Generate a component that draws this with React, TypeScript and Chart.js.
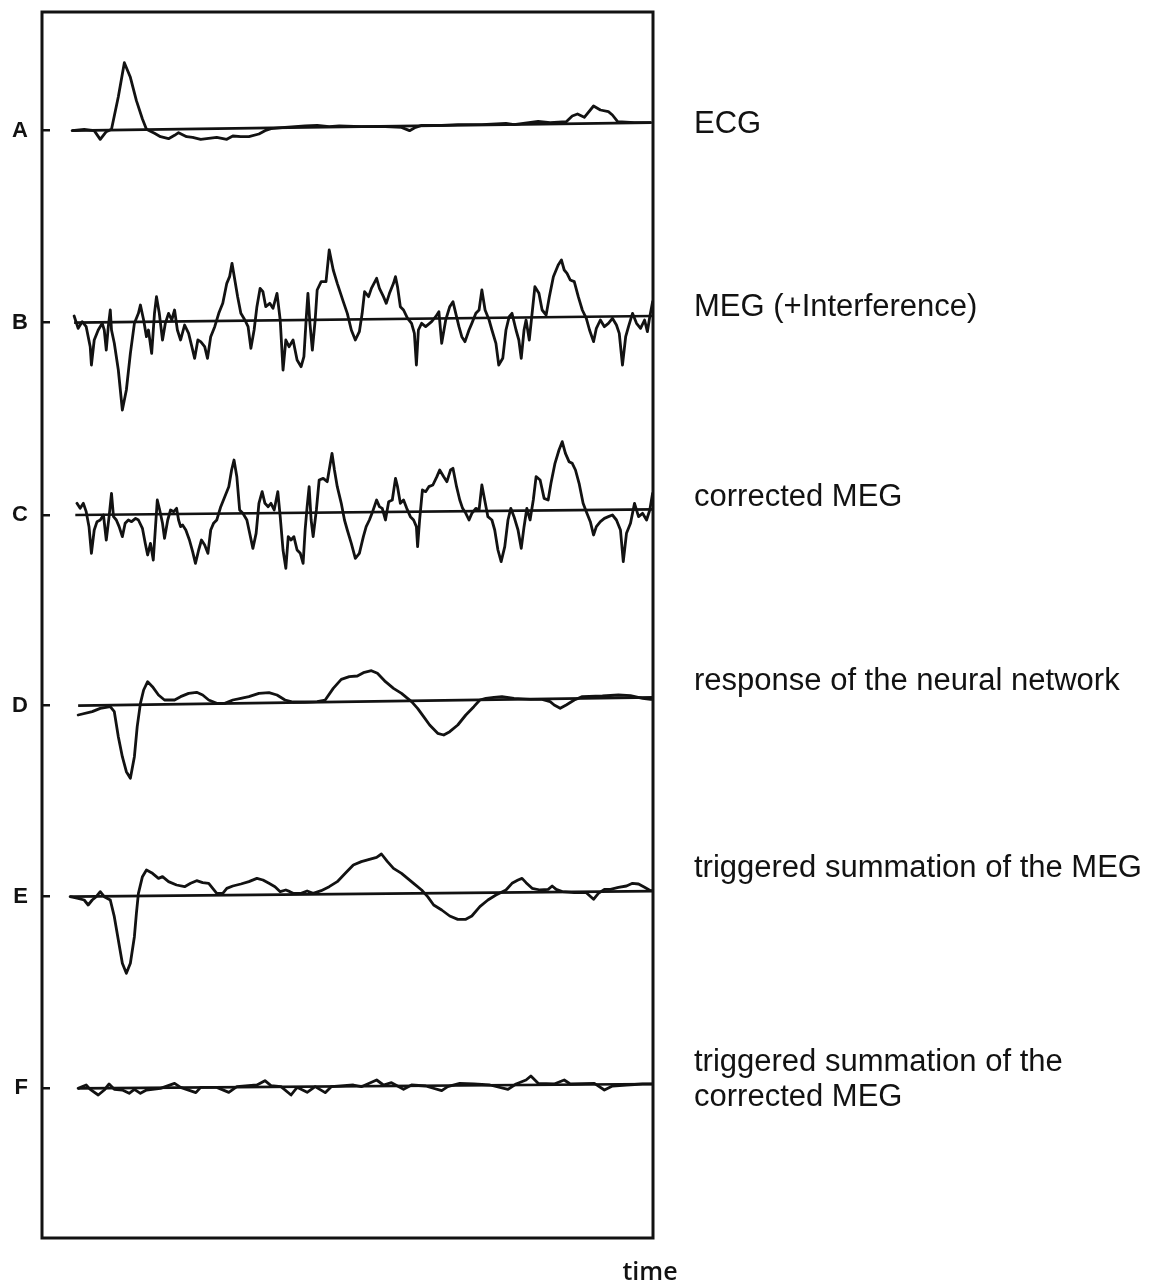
import React, { useEffect, useRef } from "react";
import { Chart, registerables } from "chart.js";

Chart.register(...registerables);

// Panel labels (left) and trace descriptions (right)
const panelLetters = ["A", "B", "C", "D", "E", "F"];
const panelNames: (string | string[])[] = [
  "ECG",
  "MEG (+Interference)",
  "corrected MEG",
  "response of the neural network",
  "triggered summation of the MEG",
  ["triggered summation of the", "corrected MEG"],
];
const axisTitle = "time";

// Each trace: [time sample, amplitude relative to its own zero level]
const ecgTrace = [
  [80, 0], [110, 4], [135, 0], [150, -26], [165, -3], [178, 4], [195, 102], [210, 204], [225, 160], [240, 90],
  [255, 35], [265, 4], [285, -8], [300, -18], [320, -24], [335, -14], [345, -6], [365, -18], [380, -20], [400, -26],
  [420, -23], [440, -20], [465, -26], [480, -16], [500, -18], [520, -18], [545, -10], [560, 0], [575, 6], [610, 10],
  [660, 14], [690, 16], [720, 12], [745, 14], [800, 12], [860, 12], [900, 10], [920, 0], [935, 10], [950, 16],
  [1000, 16], [1040, 18], [1100, 18], [1160, 22], [1180, 18], [1240, 28], [1270, 24], [1310, 27], [1325, 44], [1338, 50],
  [1355, 40], [1378, 74], [1395, 62], [1415, 57], [1425, 47], [1438, 27], [1480, 24], [1520, 24],
];

const megRawTrace = [
  [85, 20], [95, -17], [105, 3], [115, -12], [125, -72], [128, -127], [135, -52], [145, -22], [155, -2], [160, -22],
  [165, -82], [170, -12], [175, 38], [178, -22], [185, -62], [195, -142], [205, -262], [215, -202], [225, -92], [235, -2],
  [245, 28], [250, 53], [258, 8], [265, -42], [270, -22], [278, -92], [285, 28], [290, 78], [297, 28], [305, -52],
  [312, -2], [320, 28], [328, 8], [335, 38], [342, -22], [350, -52], [360, -7], [370, -32], [378, -72], [385, -107],
  [393, -52], [400, -57], [410, -72], [417, -107], [425, -42], [435, -12], [445, 28], [455, 58], [465, 118], [472, 138],
  [478, 178], [485, 128], [492, 78], [500, 28], [510, 8], [518, -12], [525, -77], [533, -22], [540, 48], [548, 103],
  [555, 93], [562, 48], [572, 58], [580, 43], [590, 88], [598, 8], [605, -142], [612, -52], [620, -72], [630, -52],
  [640, -112], [650, -132], [657, -102], [663, 18], [667, 88], [672, -2], [678, -82], [685, 8], [690, 98], [700, 123],
  [712, 123], [720, 218], [730, 158], [740, 118], [755, 63], [765, 28], [775, -22], [785, -52], [795, -27], [802, 28],
  [808, 93], [818, 78], [825, 103], [838, 133], [845, 103], [855, 78], [862, 58], [870, 88], [880, 118], [885, 138],
  [890, 108], [897, 48], [905, 38], [915, 13], [925, -2], [932, -32], [937, -127], [942, -22], [950, -2], [960, -12],
  [975, 3], [985, 18], [993, 33], [1000, -62], [1010, 8], [1020, 48], [1028, 63], [1035, 28], [1043, -12], [1050, -42],
  [1058, -57], [1068, -22], [1075, -2], [1085, 28], [1093, 38], [1100, 98], [1108, 38], [1118, 8], [1125, -22], [1135, -62],
  [1142, -127], [1152, -107], [1160, -22], [1168, 18], [1175, 28], [1185, -22], [1192, -52], [1198, -107], [1205, -22], [1210, 8],
  [1218, -52], [1225, 28], [1232, 108], [1242, 88], [1250, 38], [1260, 23], [1268, 78], [1278, 138], [1290, 173], [1298, 188],
  [1305, 158], [1312, 148], [1320, 128], [1330, 123], [1340, 78], [1350, 38], [1360, 13], [1368, -22], [1378, -57], [1385, -17],
  [1395, 8], [1405, -12], [1415, -2], [1425, 13], [1435, -7], [1442, -32], [1450, -127], [1458, -42], [1465, -12], [1475, 28],
  [1485, -2], [1495, -17], [1505, 8], [1512, -27], [1518, 18], [1525, 63],
];

const megCorrectedTrace = [
  [92, 35], [100, 20], [108, 35], [115, 10], [122, -35], [128, -115], [135, -45], [142, -20], [150, -15], [158, 0],
  [165, -75], [172, -5], [178, 65], [183, -5], [190, -15], [197, -35], [205, -65], [212, -25], [220, -15], [228, -20],
  [238, -10], [245, -15], [255, -40], [262, -85], [268, -120], [275, -85], [282, -135], [287, -45], [292, 45], [298, 15],
  [305, -25], [310, -70], [318, -15], [325, 15], [333, 10], [340, 20], [345, -15], [350, -35], [355, -30], [363, -45],
  [372, -75], [380, -110], [387, -145], [395, -105], [402, -75], [410, -90], [418, -115], [425, -45], [432, -25], [440, -15],
  [450, 25], [460, 55], [470, 85], [477, 135], [483, 165], [490, 115], [497, 15], [505, 5], [515, -15], [522, -55],
  [530, -100], [538, -55], [545, 35], [553, 70], [560, 35], [568, 25], [575, 35], [583, 15], [592, 70], [598, -5],
  [605, -105], [612, -160], [618, -65], [625, -75], [632, -65], [640, -105], [648, -115], [655, -145], [660, -45], [665, 25],
  [670, 85], [675, -15], [680, -65], [688, 15], [695, 105], [705, 110], [715, 100], [722, 150], [727, 185], [733, 135],
  [740, 85], [750, 35], [758, -15], [765, -45], [775, -85], [785, -130], [795, -115], [805, -65], [812, -35], [820, -15],
  [828, 10], [838, 45], [845, 25], [852, 20], [860, -15], [868, 40], [877, 45], [885, 110], [890, 85], [897, 35],
  [905, 45], [913, 20], [922, -5], [930, -15], [937, -35], [940, -95], [945, -15], [952, 75], [960, 70], [968, 85],
  [978, 90], [988, 115], [995, 135], [1005, 115], [1013, 100], [1022, 135], [1028, 140], [1037, 85], [1045, 45], [1052, 20],
  [1060, 5], [1068, -15], [1075, 5], [1085, 20], [1093, 15], [1100, 90], [1107, 45], [1115, -5], [1125, -15], [1132, -45],
  [1140, -105], [1148, -140], [1157, -95], [1165, -15], [1172, 20], [1180, -5], [1190, -45], [1198, -100], [1205, -35], [1212, 20],
  [1220, -15], [1228, 45], [1235, 115], [1245, 105], [1255, 50], [1265, 45], [1272, 95], [1282, 155], [1292, 195], [1300, 220],
  [1308, 185], [1317, 160], [1325, 155], [1333, 135], [1342, 95], [1352, 35], [1360, 10], [1370, -20], [1378, -60], [1385, -35],
  [1395, -20], [1405, -10], [1415, -5], [1425, 0], [1435, -15], [1445, -45], [1452, -140], [1460, -55], [1470, -25], [1480, 35],
  [1490, -5], [1500, 5], [1510, -15], [1518, 15], [1525, 65], [1532, 35],
];

const networkTrace = [
  [95, -28], [130, -18], [150, -8], [175, -3], [185, -18], [195, -93], [205, -153], [215, -198], [225, -218], [235, -153],
  [242, -63], [250, 7], [258, 47], [268, 72], [280, 57], [295, 32], [310, 17], [325, 17], [335, 17], [350, 27],
  [370, 37], [390, 40], [405, 32], [420, 17], [440, 7], [460, 7], [480, 17], [500, 22], [520, 27], [545, 37],
  [570, 39], [590, 32], [610, 17], [630, 11], [660, 11], [690, 12], [710, 17], [730, 52], [750, 79], [770, 87],
  [790, 89], [805, 99], [825, 105], [840, 97], [860, 72], [880, 52], [900, 37], [915, 22], [925, 12], [940, -8],
  [955, -33], [970, -58], [990, -83], [1005, -88], [1020, -78], [1040, -58], [1060, -28], [1080, -3], [1095, 17], [1110, 22],
  [1130, 25], [1150, 27], [1180, 22], [1220, 19], [1250, 19], [1270, 12], [1280, 2], [1295, -8], [1310, 2], [1330, 17],
  [1350, 27], [1400, 29], [1440, 32], [1470, 30], [1500, 22], [1520, 19], [1535, 19],
];

const triggeredTrace = [
  [75, 0], [95, -5], [110, -10], [120, -25], [130, -10], [140, 0], [150, 15], [160, 0], [175, -10], [185, -60],
  [195, -130], [205, -200], [215, -230], [225, -200], [235, -120], [240, -50], [245, 10], [255, 60], [265, 80], [280, 70],
  [295, 55], [305, 60], [320, 45], [340, 35], [360, 30], [375, 40], [390, 48], [405, 42], [420, 40], [430, 25],
  [440, 10], [455, 10], [465, 25], [480, 32], [500, 38], [520, 45], [540, 55], [555, 50], [570, 40], [585, 30],
  [598, 15], [612, 20], [622, 15], [630, 10], [650, 10], [665, 17], [680, 10], [700, 18], [720, 30], [740, 45],
  [760, 70], [780, 95], [800, 105], [820, 112], [838, 118], [850, 128], [865, 105], [880, 85], [900, 70], [915, 55],
  [930, 40], [950, 20], [965, 0], [980, -25], [1000, -40], [1020, -58], [1040, -68], [1060, -68], [1075, -58], [1095, -30],
  [1115, -10], [1135, 5], [1160, 20], [1175, 40], [1190, 50], [1200, 55], [1210, 42], [1225, 25], [1245, 20], [1265, 22],
  [1275, 32], [1285, 22], [1300, 15], [1330, 12], [1360, 12], [1378, -8], [1390, 10], [1405, 22], [1420, 22], [1440, 28],
  [1460, 32], [1475, 40], [1490, 38], [1505, 28], [1520, 18], [1535, 18],
];

const triggeredCorrectedTrace = [
  [95, 0], [115, 10], [125, -3], [145, -20], [160, -5], [172, 13], [185, -3], [205, -5], [222, -15], [235, -3],
  [250, -15], [265, -5], [300, 0], [335, 15], [350, 3], [388, -13], [400, 3], [440, 3], [470, -12], [490, 5],
  [540, 10], [560, 23], [575, 8], [600, 5], [625, -20], [640, 3], [665, -12], [685, 5], [710, -13], [725, 5],
  [780, 10], [800, 5], [838, 25], [855, 10], [875, 17], [905, -3], [925, 10], [960, 7], [1000, -7], [1015, 5],
  [1045, 15], [1080, 13], [1120, 10], [1165, -3], [1185, 13], [1210, 25], [1222, 37], [1240, 15], [1280, 13], [1305, 25],
  [1320, 13], [1380, 15], [1405, -5], [1425, 7], [1460, 10], [1500, 13], [1530, 13],
];

// Zero line of each panel: [start time, level], [end time, level]
const zeroLines = [
  [[80, 0], [1522, 24]],
  [[85, 0], [1525, 20]],
  [[88, 0], [1530, 17]],
  [[95, 0], [1535, 25]],
  [[75, 0], [1535, 17]],
  [[95, 0], [1530, 13]],
];

// Vertical placement (value units) of each panel's zero level and its description
const panelOffsets = [3322, 2746, 2169, 1597, 1024, 449];
const namePositions = [3342, 2793, 2223, 1671, 1110, 474];

const INK = "#121212";

const framePlugin = {
  id: "frame",
  afterDatasetsDraw(chart: any) {
    const { ctx, chartArea } = chart;
    ctx.save();
    ctx.strokeStyle = INK;
    ctx.lineWidth = 3;
    ctx.strokeRect(chartArea.left, chartArea.top, chartArea.right - chartArea.left, chartArea.bottom - chartArea.top);
    ctx.restore();
  },
};

const timeLabelPlugin = {
  id: "timeLabel",
  afterDraw(chart: any) {
    const { ctx, chartArea } = chart;
    ctx.save();
    ctx.font = '600 25px "Open Sans"';
    ctx.fillStyle = INK;
    ctx.textAlign = "center";
    ctx.textBaseline = "alphabetic";
    ctx.fillText(axisTitle, chartArea.right - 3, chartArea.bottom + 42);
    ctx.restore();
  },
};

const fixAxis = (width: number) => (s: any) => {
  s.width = width;
  s.paddingTop = 0;
  s.paddingBottom = 0;
  s.paddingLeft = 0;
  s.paddingRight = 0;
};

export default function App() {
  const canvasRef = useRef<HTMLCanvasElement>(null);

  useEffect(() => {
    if (!canvasRef.current) return;
    const traces = [ecgTrace, megRawTrace, megCorrectedTrace, networkTrace, triggeredTrace, triggeredCorrectedTrace];
    const datasets: any[] = [];
    traces.forEach((trace, i) => {
      datasets.push({
        label: "zero " + panelLetters[i],
        data: zeroLines[i].map(([t, a]) => ({ x: t, y: panelOffsets[i] + a })),
        borderColor: INK,
        borderWidth: 2.7,
        pointRadius: 0,
        tension: 0,
      });
      datasets.push({
        label: panelLetters[i],
        data: trace.map(([t, a]) => ({ x: t, y: panelOffsets[i] + a })),
        borderColor: INK,
        borderWidth: 2.8,
        pointRadius: 0,
        tension: 0,
        borderJoinStyle: "round",
        borderCapStyle: "round",
      });
    });

    const chart = new Chart(canvasRef.current, {
      type: "line",
      data: { datasets },
      options: {
        animation: false,
        responsive: false,
        devicePixelRatio: 1,
        layout: { padding: { top: 12, bottom: 45, left: 0, right: 0 } },
        plugins: { legend: { display: false }, tooltip: { enabled: false } },
        scales: {
          x: { type: "linear", min: 5, max: 1526, display: false },
          y: {
            type: "linear",
            position: "left",
            min: 0,
            max: 3678,
            afterFit: fixAxis(42),
            afterBuildTicks: (s: any) => { s.ticks = panelOffsets.map((v) => ({ value: v })); },
            ticks: {
              autoSkip: false,
              callback: (_v: any, i: number) => panelLetters[i],
              padding: 22,
              color: INK,
              font: { family: "Liberation Sans", size: 22, weight: "bold" },
            },
            grid: { drawOnChartArea: false, drawTicks: true, tickLength: -8, color: INK, lineWidth: 2.5 },
            border: { display: false },
          },
          y2: {
            type: "linear",
            position: "right",
            min: 0,
            max: 3678,
            afterFit: fixAxis(518),
            afterBuildTicks: (s: any) => { s.ticks = namePositions.map((v) => ({ value: v })); },
            ticks: {
              autoSkip: false,
              callback: (_v: any, i: number) => panelNames[i],
              padding: 41,
              color: INK,
              font: { family: "Liberation Sans", size: 31, lineHeight: 1.1 },
            },
            grid: { display: false, drawTicks: false },
            border: { display: false },
          },
        },
      } as any,
      plugins: [framePlugin, timeLabelPlugin],
    });
    return () => chart.destroy();
  }, []);

  return (
    <div style={{ position: "fixed", left: 0, top: 0, width: 1171, height: 1283, background: "#fff" }}>
      <canvas ref={canvasRef} width={1171} height={1283} />
    </div>
  );
}
